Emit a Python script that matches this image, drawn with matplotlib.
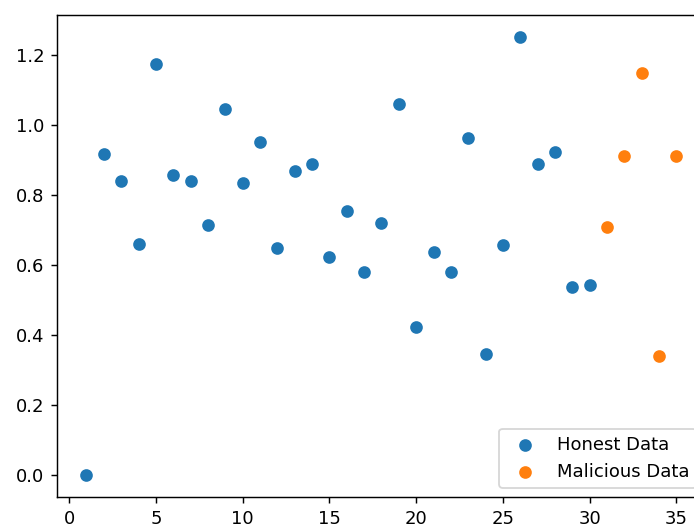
import matplotlib
matplotlib.use("Agg")
import matplotlib.pyplot as plt

# honest clients 1..30, malicious clients 31..35
honest_x = list(range(1, 31))
honest_y = [0.0, 0.918, 0.841, 0.661, 1.174, 0.858, 0.841, 0.713, 1.046, 0.835,
            0.952, 0.647, 0.869, 0.889, 0.624, 0.755, 0.579, 0.721, 1.060, 0.422,
            0.636, 0.581, 0.961, 0.345, 0.658, 1.251, 0.889, 0.923, 0.536, 0.544]
malicious_x = [31, 32, 33, 34, 35]
malicious_y = [0.707, 0.912, 1.149, 0.339, 0.912]

dpi = 130
W, H = 694, 525
fig = plt.figure(figsize=(W / dpi, H / dpi), dpi=dpi)
# axes runs past the right edge, as in the reference
ax = fig.add_axes([57 / W, (H - 497) / H, (706 - 57) / W, (497 - 15) / H])

ax.scatter(honest_x, honest_y, label="Honest Data")
ax.scatter(malicious_x, malicious_y, label="Malicious Data")
ax.legend(loc="lower right")

fig.savefig("out.png", dpi=dpi)
